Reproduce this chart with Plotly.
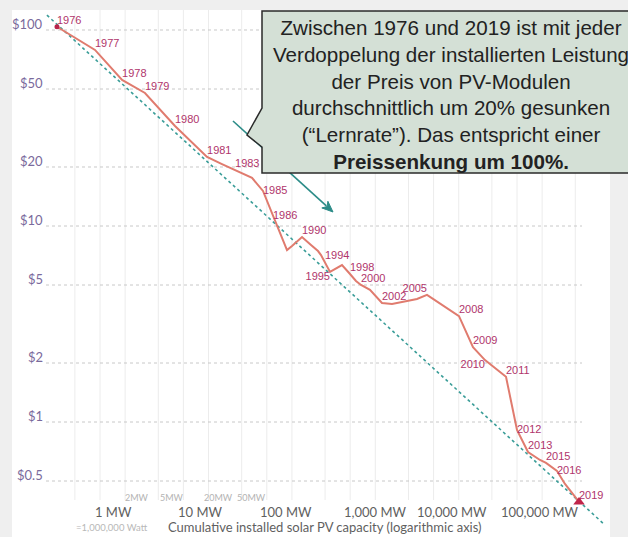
import numpy as np
import plotly.graph_objects as go

# ---------------- data ----------------
years = list(range(1976, 2020))
capacity_mw = [0.305, 0.871, 1.84, 3.46, 7.93, 19.2, 29.0, 41.6, 66.5, 90.0,
               118.7, 174.7, 200.5, 230.2, 264.3, 338.8, 411.2, 446.6, 498.7, 572.6,
               797.4, 890.3, 994.5, 1173, 1347, 1727, 2406, 3172, 6324, 8336,
               11290, 15300, 20160, 29680, 41330, 73830, 100000, 135500, 188700, 222700,
               301700, 376300, 456500, 553800]
price_usd = [103.9, 79.1, 55.6, 47.7, 32.4, 22.5, 20.7, 19.3, 17.6, 15.1,
             11.2, 7.54, 7.91, 8.38, 8.79, 8.00, 7.45, 7.11, 6.55, 5.83,
             6.32, 6.03, 5.69, 5.24, 5.00, 4.72, 4.05, 4.00, 4.24, 4.45,
             4.09, 3.77, 3.47, 2.41, 2.07, 1.70, 0.91, 0.703, 0.640, 0.618,
             0.562, 0.483, 0.434, 0.391]

label_years = [1976, 1977, 1978, 1979, 1980, 1981, 1983, 1985, 1986, 1990,
               1994, 1995, 1998, 2000, 2002, 2005, 2008, 2009, 2010, 2011,
               2012, 2013, 2015, 2016, 2019]

trend_capacity_mw = [0.231, 1.136e6]
trend_price_usd = [119.0, 0.298]

y_tick_vals = [100, 50, 20, 10, 5, 2, 1, 0.5]
y_tick_text = ["$100", "$50", "$20", "$10", "$5", "$2", "$1", "$0.5"]
x_major_vals = [1, 10, 100, 1000, 10000, 100000]
x_major_text = ["1 MW", "10 MW", "100 MW", "1,000 MW", "10,000 MW", "100,000 MW"]
x_minor_vals = [2, 5, 20, 50]
x_minor_text = ["2MW", "5MW", "20MW", "50MW"]
x_grid_vals = [0.5, 1, 2, 5, 10, 20, 50, 100, 200, 500, 1000, 2000, 5000,
               10000, 20000, 50000, 100000, 200000, 500000]

callout_lines = [
    "Zwischen 1976 und 2019 ist mit jeder",
    "Verdoppelung der installierten Leistung",
    "der Preis von PV-Modulen",
    "durchschnittlich um 20% gesunken",
    "(\u201cLernrate\u201d). Das entspricht einer",
    "<b>Preissenkung um 100%.</b>",
]
x_axis_title = "Cumulative installed solar PV capacity (logarithmic axis)"
watt_note = "=1,000,000 Watt"

# ---------------- styling / layout helpers ----------------
W, H = 628, 537
ML, MR, MT, MB = 12, 18, 10, 0
PW, PH = W - ML - MR, H - MT - MB


def px(x):
    return (x - ML) / PW


def py(y):
    return (H - MB - y) / PH


label_pos = {1995: "bottom left", 2005: "top left", 2010: "bottom left",
             1985: "middle right", 1986: "middle right", 2012: "middle right",
             2016: "middle right"}

LINE_COL = "#e07b6e"
LABEL_COL = "#b0356b"
TEAL = "#3a9d98"

fig = go.Figure()

# trend line
fig.add_trace(go.Scatter(x=trend_capacity_mw, y=trend_price_usd, mode="lines",
                         line=dict(color=TEAL, width=1.6, dash="dot"),
                         hoverinfo="skip", showlegend=False))
# price line
fig.add_trace(go.Scatter(x=capacity_mw, y=price_usd, mode="lines",
                         line=dict(color=LINE_COL, width=2),
                         hoverinfo="skip", showlegend=False))
# year labels
lx = [capacity_mw[years.index(yv)] for yv in label_years]
ly = [price_usd[years.index(yv)] for yv in label_years]
fig.add_trace(go.Scatter(x=lx, y=ly, mode="text",
                         text=[str(v) for v in label_years],
                         textposition=[label_pos.get(v, "top right") for v in label_years],
                         textfont=dict(family="Liberation Sans, Arial", size=11, color=LABEL_COL),
                         hoverinfo="skip", showlegend=False))
# start / end markers
fig.add_trace(go.Scatter(x=[capacity_mw[0]], y=[price_usd[0]], mode="markers",
                         marker=dict(color="#b8234a", size=5, symbol="circle"),
                         hoverinfo="skip", showlegend=False))
fig.add_trace(go.Scatter(x=[capacity_mw[-1]], y=[price_usd[-1]], mode="markers",
                         marker=dict(color="#c0254a", size=10, symbol="triangle-up"),
                         hoverinfo="skip", showlegend=False))

shapes = []
# vertical grid lines
for v in x_grid_vals:
    shapes.append(dict(type="line", xref="x", yref="paper", x0=v, x1=v,
                       y0=py(500), y1=1, line=dict(color="#ececec", width=1), layer="below"))
# horizontal dotted grid lines
for v in y_tick_vals:
    shapes.append(dict(type="line", xref="paper", yref="y", x0=px(46), x1=px(582),
                       y0=v, y1=v, line=dict(color="#c8c8c8", width=1, dash="dot"), layer="below"))

# teal arrow (drawn before callout so box covers it)
ax0, ay0, ax1, ay1 = 233, 121, 333, 212
ux, uy = ax1 - ax0, ay1 - ay0
n = (ux ** 2 + uy ** 2) ** 0.5
ux, uy = ux / n, uy / n
hl, hw = 11, 4.5
bx, by = ax1 - hl * ux, ay1 - hl * uy
shapes.append(dict(type="line", xref="paper", yref="paper",
                   x0=px(ax0), y0=py(ay0), x1=px(bx + 2 * ux), y1=py(by + 2 * uy),
                   line=dict(color="#2c8c88", width=1.6)))
head = "M {},{} L {},{} L {},{} L {},{} Z".format(
    px(ax1), py(ay1),
    px(bx - hw * uy), py(by + hw * ux),
    px(bx + 3 * ux), py(by + 3 * uy),
    px(bx + hw * uy), py(by - hw * ux))
shapes.append(dict(type="path", xref="paper", yref="paper", path=head,
                   fillcolor="#2c8c88", line=dict(color="#2c8c88", width=1)))

# callout box
pts = [(262, 11), (645, 11), (645, 173), (262, 173), (262, 147), (247, 135), (262, 108)]
path = "M " + " L ".join("{},{}".format(px(a), py(b)) for a, b in pts) + " Z"
shapes.append(dict(type="path", xref="paper", yref="paper", path=path,
                   fillcolor="#d4e0d6", line=dict(color="#2a2a2a", width=1.5)))

annotations = []
# callout text
annotations.append(dict(xref="paper", yref="paper", x=px(451), y=py(95),
                        xanchor="center", yanchor="middle", showarrow=False,
                        text="<br>".join(callout_lines), align="center",
                        font=dict(family="Liberation Sans, Arial", size=20.6, color="#222222")))
# y tick labels
for v, t in zip(y_tick_vals, y_tick_text):
    annotations.append(dict(xref="paper", yref="y", x=px(45), y=np.log10(v),
                            xanchor="right", yanchor="middle", yshift=6, showarrow=False,
                            text=t, font=dict(family="Lato", size=13, color="#7a6a9c")))
# x major tick labels
major_shift = [13, 17, 19, 25, 18, 23]
for v, t, s in zip(x_major_vals, x_major_text, major_shift):
    annotations.append(dict(xref="x", yref="paper", x=np.log10(v), y=py(512),
                            xanchor="center", yanchor="middle", xshift=s, showarrow=False,
                            text=t, font=dict(family="Lato", size=13, color="#5f5f5f")))
minor_shift = [12, 14, 10, 10]
for v, t, s in zip(x_minor_vals, x_minor_text, minor_shift):
    annotations.append(dict(xref="x", yref="paper", x=np.log10(v), y=py(497),
                            xanchor="center", yanchor="middle", xshift=s, showarrow=False,
                            text=t, font=dict(family="Lato", size=9, color="#b3b3b3")))
annotations.append(dict(xref="paper", yref="paper", x=px(112), y=py(527),
                        xanchor="center", yanchor="middle", showarrow=False,
                        text=watt_note, font=dict(family="Lato", size=9.5, color="#b8b8b8")))
annotations.append(dict(xref="paper", yref="paper", x=px(325), y=py(527),
                        xanchor="center", yanchor="middle", showarrow=False,
                        text=x_axis_title, font=dict(family="Lato", size=13, color="#5f5f5f")))

fig.update_layout(
    width=W, height=H, autosize=False,
    margin=dict(l=ML, r=MR, t=MT, b=MB, pad=0),
    paper_bgcolor="#efefef", plot_bgcolor="#ffffff",
    xaxis=dict(type="log", range=[-1.0552, 6.1151], showgrid=False, zeroline=False,
               showticklabels=False, showline=False, ticks=""),
    yaxis=dict(type="log", range=[-0.5867, 2.1020], showgrid=False, zeroline=False,
               showticklabels=False, showline=False, ticks=""),
    shapes=shapes, annotations=annotations, showlegend=False,
)

fig.write_html("out.html", config={"displayModeBar": False},
               post_script="document.body.style.margin='0px';document.body.style.padding='0px';"
                           "document.documentElement.style.overflow='hidden';")
